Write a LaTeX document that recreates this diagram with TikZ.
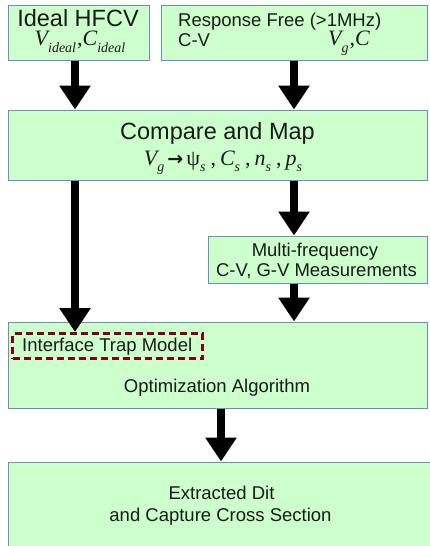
\documentclass[tikz,border=0pt]{standalone}
\usepackage{fontspec}
\setmainfont{Liberation Sans}
\newfontfamily\serifit{Liberation Serif}
\newfontfamily\symfont{DejaVu Sans}
\usetikzlibrary{arrows.meta}
\definecolor{boxfill}{HTML}{CCFFCC}
\definecolor{boxedge}{HTML}{6C8EBF}
\definecolor{trapred}{HTML}{800020}
\definecolor{ink}{HTML}{1A1A1A}
% italic serif symbol, its lowered subscript, a spaced comma and the bold mapping arrow
\newcommand\sym[1]{{\serifit\itshape #1}}
\newcommand\lowsub[1]{\raisebox{-6.5pt}{\fontsize{14}{14}\selectfont\serifit\itshape #1}}
\newcommand\sep{\hspace{5pt},\hspace{4pt}}
\newcommand\maparrow{{\symfont\bfseries\fontsize{19}{19}\selectfont →}}
\tikzset{
  stagebox/.style={draw=boxedge, fill=boxfill, line width=1pt, inner sep=0pt},
  txt/.style={inner sep=0pt, anchor=base, text=ink, font=\fontsize{18.5}{20}\selectfont},
  bigtxt/.style={txt, font=\fontsize{23.5}{25}\selectfont, text depth=0pt},
  mathtxt/.style={txt, font=\fontsize{22}{24}\selectfont\serifit, text height=13pt},
  flow/.style={line width=8pt, -{Triangle[width=30pt,length=24pt]}},
  trapbox/.style={draw=trapred, line width=3pt, dash pattern=on 7pt off 4pt, inner sep=0pt},
}
\begin{document}
\begin{tikzpicture}[x=1pt, y=-1pt]
\useasboundingbox (0,0) rectangle (429,546);

% stage boxes
\node[stagebox, minimum width=141pt, minimum height=55pt] (ideal) at (78.5,32.5) {};
\node[stagebox, minimum width=266pt, minimum height=55pt] (resp) at (294,32.5) {};
\node[stagebox, minimum width=419pt, minimum height=70pt] (cmp) at (217.5,145) {};
\node[stagebox, minimum width=219pt, minimum height=47pt] (multi) at (317.5,259.5) {};
\node[stagebox, minimum width=419pt, minimum height=86pt] (optim) at (217.5,365) {};
\node[stagebox, minimum width=428pt, minimum height=100pt] (result) at (222,512) {};
\node[trapbox, minimum width=190pt, minimum height=25pt] (trap) at (107.5,346) {};

% texts
\node[bigtxt] (idealA) at (78,27) {Ideal HFCV};
\node[mathtxt] (idealB) at (80,45.5) {\sym{V}\lowsub{ideal}\hspace{1pt},\sym{C}\lowsub{ideal}};
\node[txt, anchor=base west, text depth=0pt] (respA) at (178,27) {Response Free (>1MHz)};
\node[txt, anchor=base west] (respB) at (178,46) {C-V};
\node[mathtxt, anchor=base west] (respC) at (328,45.5) {\sym{V}\lowsub{g}\hspace{1pt},\sym{C}};
\node[bigtxt] (cmpA) at (217.5,139) {Compare and Map};
\node[mathtxt] (cmpB) at (223,165) {\sym{V}\lowsub{g}\hspace{3pt}\maparrow\hspace{3pt}ψ\lowsub{s}\sep\sym{C}\lowsub{s}\sep\sym{n}\lowsub{s}\sep\sym{p}\lowsub{s}};
\node[txt] (multiA) at (315,256) {Multi-frequency};
\node[txt] (multiB) at (316.5,276) {C-V, G-V Measurements};
\node[txt, anchor=base west] (trapA) at (22,351) {Interface Trap Model};
\node[txt] (optimA) at (217,392) {Optimization Algorithm};
\node[txt] (resultA) at (221.5,499) {Extracted Dit};
\node[txt] (resultB) at (220.5,521) {and Capture Cross Section};

% connectors
\coordinate (colL) at (75,0);
\coordinate (colR) at (294,0);
\coordinate (colM) at (221,0);
\draw[flow] (ideal.south -| colL) -- (cmp.north -| colL);
\draw[flow] (resp.south -| colR) -- (cmp.north -| colR);
\draw[flow] (cmp.south -| colL) -- (trap.north -| colL);
\draw[flow] (cmp.south -| colR) -- (multi.north -| colR);
\draw[flow] (multi.south -| colR) -- (optim.north -| colR);
\draw[flow] (optim.south -| colM) -- (result.north -| colM);
\end{tikzpicture}
\end{document}
